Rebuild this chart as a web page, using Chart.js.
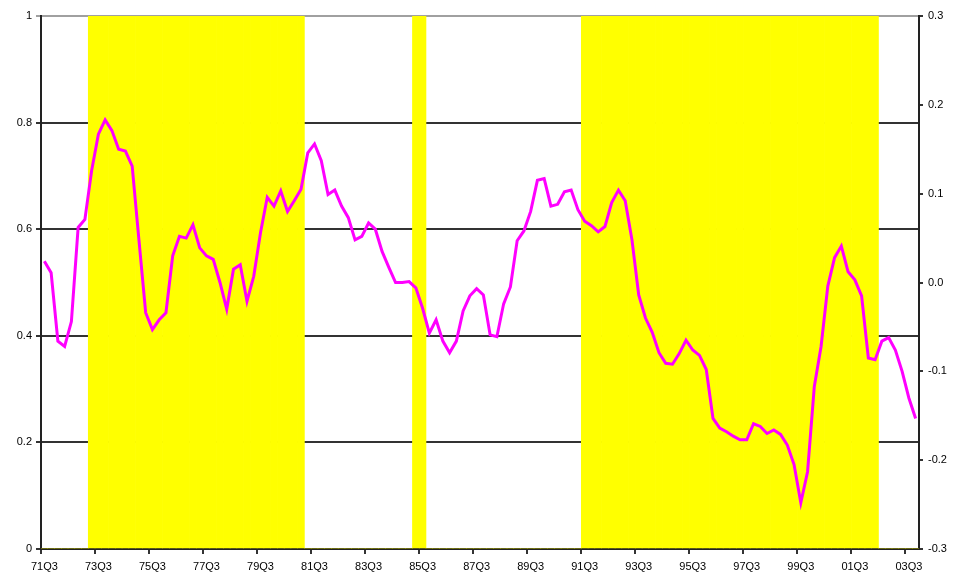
<!DOCTYPE html>
<html>
<head>
<meta charset="utf-8">
<script src="https://cdn.jsdelivr.net/npm/chart.js@4.4.1/dist/chart.umd.min.js"></script>
<style>
  body { margin: 0; background: #fff; }
</style>
</head>
<body>
<canvas id="chart" width="955" height="580"></canvas>
<script>
// Quarterly categories, 71Q3 .. 03Q4
const quarters = [
  '71Q3', '71Q4',
  '72Q1', '72Q2', '72Q3', '72Q4', '73Q1', '73Q2', '73Q3', '73Q4',
  '74Q1', '74Q2', '74Q3', '74Q4', '75Q1', '75Q2', '75Q3', '75Q4',
  '76Q1', '76Q2', '76Q3', '76Q4', '77Q1', '77Q2', '77Q3', '77Q4',
  '78Q1', '78Q2', '78Q3', '78Q4', '79Q1', '79Q2', '79Q3', '79Q4',
  '80Q1', '80Q2', '80Q3', '80Q4', '81Q1', '81Q2', '81Q3', '81Q4',
  '82Q1', '82Q2', '82Q3', '82Q4', '83Q1', '83Q2', '83Q3', '83Q4',
  '84Q1', '84Q2', '84Q3', '84Q4', '85Q1', '85Q2', '85Q3', '85Q4',
  '86Q1', '86Q2', '86Q3', '86Q4', '87Q1', '87Q2', '87Q3', '87Q4',
  '88Q1', '88Q2', '88Q3', '88Q4', '89Q1', '89Q2', '89Q3', '89Q4',
  '90Q1', '90Q2', '90Q3', '90Q4', '91Q1', '91Q2', '91Q3', '91Q4',
  '92Q1', '92Q2', '92Q3', '92Q4', '93Q1', '93Q2', '93Q3', '93Q4',
  '94Q1', '94Q2', '94Q3', '94Q4', '95Q1', '95Q2', '95Q3', '95Q4',
  '96Q1', '96Q2', '96Q3', '96Q4', '97Q1', '97Q2', '97Q3', '97Q4',
  '98Q1', '98Q2', '98Q3', '98Q4', '99Q1', '99Q2', '99Q3', '99Q4',
  '00Q1', '00Q2', '00Q3', '00Q4', '01Q1', '01Q2', '01Q3', '01Q4',
  '02Q1', '02Q2', '02Q3', '02Q4', '03Q1', '03Q2', '03Q3', '03Q4'
];

// Labels shown on the x axis
const xTickLabels = ['71Q3', '73Q3', '75Q3', '77Q3', '79Q3', '81Q3', '83Q3', '85Q3', '87Q3',
  '89Q3', '91Q3', '93Q3', '95Q3', '97Q3', '99Q3', '01Q3', '03Q3'];

// Magenta series (right axis)
const spread = [
  0.024, 0.011,
  -0.066, -0.072, -0.044, 0.062, 0.071, 0.126, 0.167, 0.183,
  0.171, 0.150, 0.148, 0.131, 0.048, -0.034, -0.053, -0.042,
  -0.034, 0.030, 0.052, 0.050, 0.065, 0.039, 0.030, 0.026,
  0.000, -0.030, 0.015, 0.020, -0.021, 0.007, 0.056, 0.096,
  0.086, 0.103, 0.080, 0.092, 0.105, 0.146, 0.156, 0.137,
  0.099, 0.104, 0.086, 0.073, 0.048, 0.052, 0.067, 0.060,
  0.035, 0.017, 0.000, 0.000, 0.001, -0.006, -0.029, -0.057,
  -0.042, -0.066, -0.079, -0.066, -0.032, -0.015, -0.007, -0.014,
  -0.059, -0.061, -0.024, -0.005, 0.047, 0.058, 0.080, 0.115,
  0.117, 0.086, 0.088, 0.102, 0.104, 0.082, 0.069, 0.064,
  0.057, 0.063, 0.090, 0.104, 0.092, 0.048, -0.014, -0.040,
  -0.056, -0.079, -0.091, -0.092, -0.080, -0.065, -0.076, -0.082,
  -0.098, -0.153, -0.164, -0.168, -0.173, -0.177, -0.177, -0.159,
  -0.162, -0.170, -0.166, -0.171, -0.183, -0.205, -0.248, -0.213,
  -0.117, -0.072, -0.004, 0.028, 0.041, 0.012, 0.003, -0.015,
  -0.085, -0.087, -0.066, -0.062, -0.076, -0.100, -0.130, -0.153
];

// Yellow shaded periods (left axis, 1 = shaded)
const shaded = [
  0, 0,
  0, 0, 0, 0, 0, 1, 1, 1,
  1, 1, 1, 1, 1, 1, 1, 1,
  1, 1, 1, 1, 1, 1, 1, 1,
  1, 1, 1, 1, 1, 1, 1, 1,
  1, 1, 1, 1, 1, 0, 0, 0,
  0, 0, 0, 0, 0, 0, 0, 0,
  0, 0, 0, 0, 0, 1, 1, 0,
  0, 0, 0, 0, 0, 0, 0, 0,
  0, 0, 0, 0, 0, 0, 0, 0,
  0, 0, 0, 0, 0, 0, 1, 1,
  1, 1, 1, 1, 1, 1, 1, 1,
  1, 1, 1, 1, 1, 1, 1, 1,
  1, 1, 1, 1, 1, 1, 1, 1,
  1, 1, 1, 1, 1, 1, 1, 1,
  1, 1, 1, 1, 1, 1, 1, 1,
  1, 1, 0, 0, 0, 0, 0, 0
];

Chart.defaults.font.family = '"Liberation Sans", Arial, sans-serif';
Chart.defaults.font.size = 11;
Chart.defaults.color = '#000';

const ctx = document.getElementById('chart').getContext('2d');

new Chart(ctx, {
    type: 'bar',
    data: {
        labels: quarters,
        datasets: [{
            type: 'line',
            data: spread,
            yAxisID: 'y1',
            borderColor: '#FF00FF',
            borderWidth: 3,
            pointRadius: 0,
            tension: 0,
            order: 0
        }, {
            type: 'bar',
            data: shaded,
            yAxisID: 'y',
            backgroundColor: '#FFFF00',
            borderWidth: 0,
            barPercentage: 1,
            categoryPercentage: 1,
            order: 1
        }]
    },
    options: {
        responsive: false,
        animation: false,
        devicePixelRatio: 1,
        layout: { padding: { top: 16, left: 0, right: 0, bottom: 0 } },
        plugins: {
            legend: { display: false },
            tooltip: { enabled: false }
        },
        scales: {
            x: {
                type: 'category',
                offset: true,
                z: 1,
                grid: {
                    offset: true,
                    drawOnChartArea: false,
                    tickLength: 5,
                    lineWidth: 2,
                    tickColor: function (c) {
                        const q = quarters[c.index];
                        return xTickLabels.includes(q) ? '#333' : 'rgba(0,0,0,0)';
                    }
                },
                border: { color: '#222', width: 2 },
                ticks: {
                    autoSkip: false,
                    maxRotation: 0,
                    minRotation: 0,
                    padding: 6,
                    callback: function (v, i) {
                        const q = quarters[i];
                        return xTickLabels.includes(q) ? q : '';
                    }
                },
                afterFit: function (s) { s.height = 31; }
            },
            y: {
                position: 'left',
                min: 0,
                max: 1,
                ticks: {
                    stepSize: 0.2,
                    padding: 4,
                    callback: function (v) { return String(+v.toFixed(1)); }
                },
                grid: {
                    lineWidth: 2,
                    tickLength: 5,
                    color: function (c) {
                        return Math.abs(c.tick.value - 1) < 1e-9 ? '#a0a0a0' : '#333';
                    }
                },
                border: { color: '#222', width: 2 },
                afterFit: function (s) { s.width = 41; }
            },
            y1: {
                position: 'right',
                min: -0.3,
                max: 0.3,
                ticks: {
                    stepSize: 0.1,
                    padding: 5,
                    callback: function (v) {
                        return Math.abs(v) < 1e-9 ? '0.0' : v.toFixed(1);
                    }
                },
                grid: {
                    drawOnChartArea: false,
                    lineWidth: 2,
                    tickLength: 4,
                    color: '#333'
                },
                border: { color: '#222', width: 2 },
                afterFit: function (s) { s.width = 36; }
            }
        }
    }
});
</script>
</body>
</html>
